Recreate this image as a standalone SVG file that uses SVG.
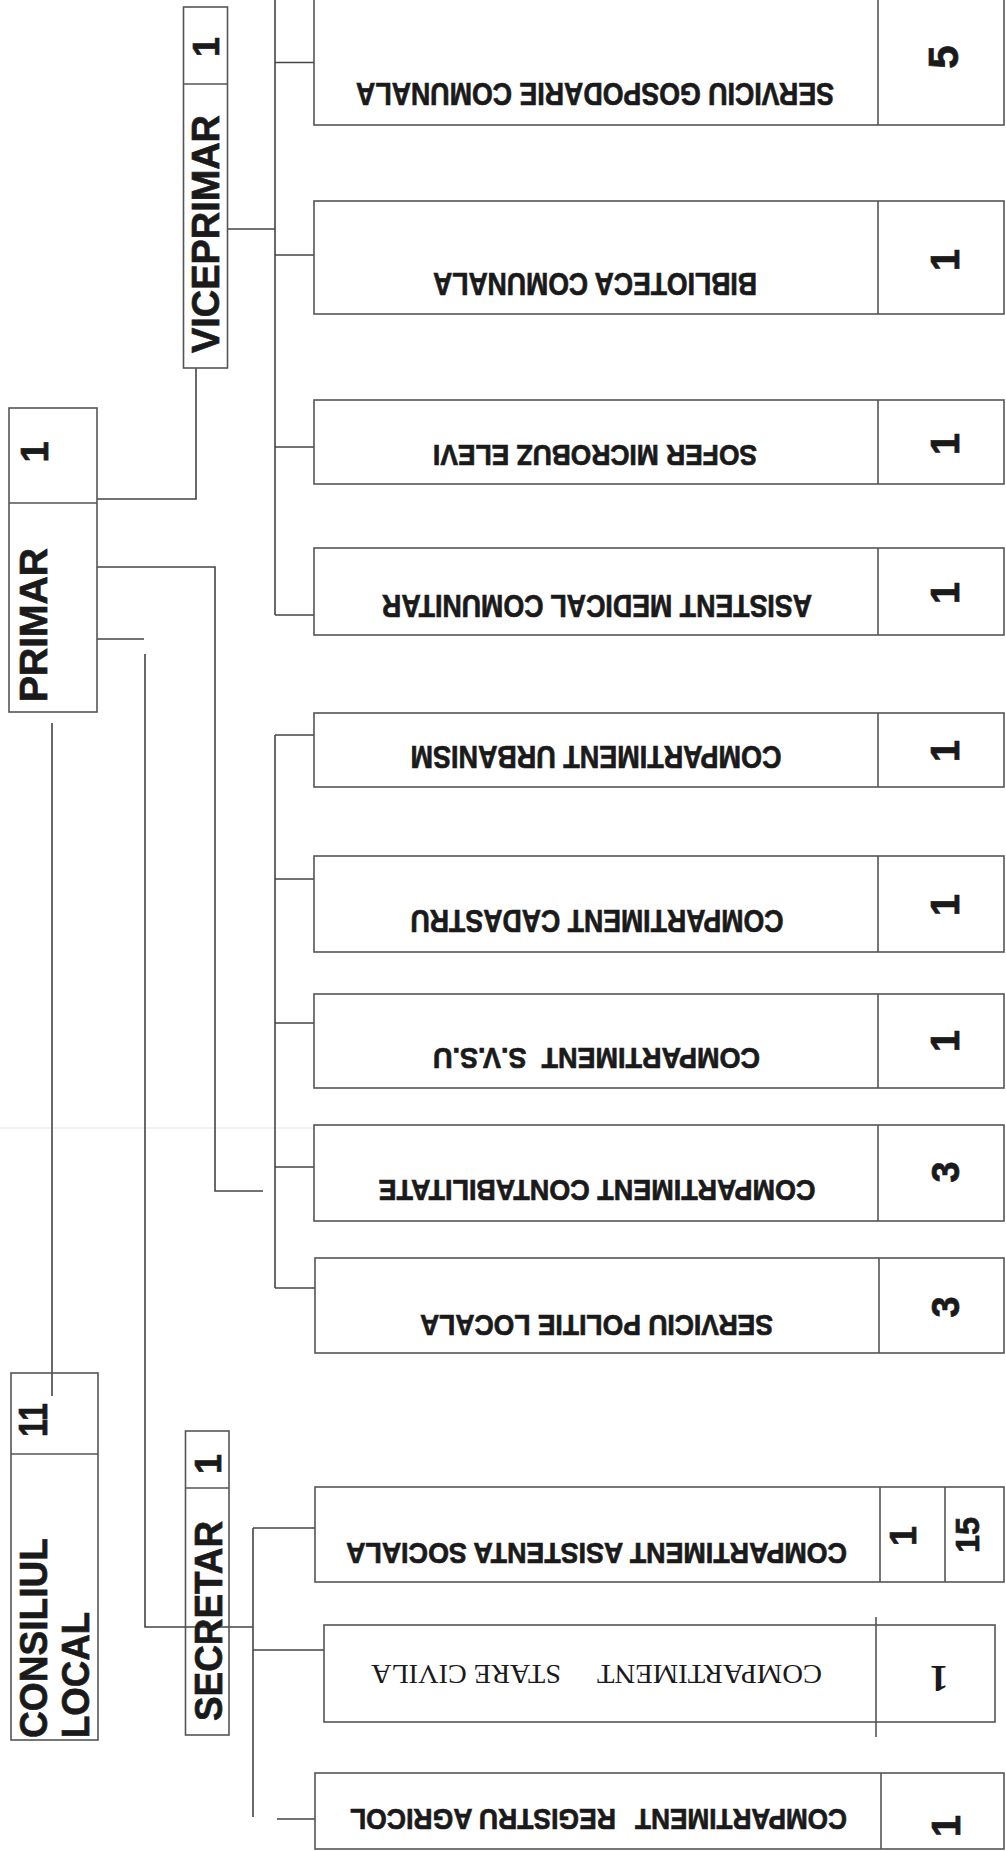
<svg xmlns="http://www.w3.org/2000/svg" width="1006" height="1851" viewBox="0 0 1006 1851">
<style>
.box{fill:#fff;stroke:#555;stroke-width:1.6}
.div{fill:none;stroke:#555;stroke-width:1.6}
.ln{fill:none;stroke:#444;stroke-width:1.6}
.t{font-family:"Liberation Sans",Arial,sans-serif;font-weight:bold;fill:#1a1a1a;stroke:#1a1a1a;stroke-width:0.7;text-anchor:middle}
.s{font-family:"Liberation Serif","Times New Roman",serif;fill:#1a1a1a;text-anchor:middle}
</style>
<rect width="1006" height="1851" fill="#fff"/>
<line x1="0" y1="1128" x2="314" y2="1128" stroke="#e4e4e4" stroke-width="1.2"/>

<g id="connectors">
<path class="ln" d="M52 723V1396"/>
<path class="ln" d="M97 499H196V368"/>
<path class="ln" d="M227 229H275"/>
<path class="ln" d="M275 -2V615"/>
<path class="ln" d="M275 62.5H321M275 255H321M275 447H321M275 615H321"/>
<path class="ln" d="M97 567H215V1191H263"/>
<path class="ln" d="M275 735V1288"/>
<path class="ln" d="M275 735H322M275 879H322M275 1023H322M275 1167H322M275 1288H322"/>
<path class="ln" d="M97 639H144"/>
<path class="ln" d="M145 654V1627H253"/>
<path class="ln" d="M253 1528V1817"/>
<path class="ln" d="M253 1528H324M253 1650H324M277 1819H321"/>
</g>

<g id="consiliul-local">
<rect class="box" x="11" y="1373" width="87" height="367" style="fill:none"/>
<line class="div" x1="11" y1="1454" x2="98" y2="1454"/>
<text class="t" font-size="40" transform="rotate(-90 33 1420)" x="33" y="1434" textLength="34" lengthAdjust="spacingAndGlyphs">11</text>
<text class="t" font-size="39" transform="rotate(-90 33 1638)" x="33" y="1652" textLength="200" lengthAdjust="spacingAndGlyphs">CONSILIUL</text>
<text class="t" font-size="39" transform="rotate(-90 75 1675)" x="75" y="1689" textLength="126" lengthAdjust="spacingAndGlyphs">LOCAL</text>
</g>

<g id="primar">
<rect class="box" x="9" y="408" width="88" height="304"/>
<line class="div" x1="9" y1="503" x2="97" y2="503"/>
<text class="t" font-size="38" transform="rotate(-90 35 452)" x="35" y="465">1</text>
<text class="t" font-size="39" transform="rotate(-90 33 625)" x="33" y="639" textLength="154" lengthAdjust="spacingAndGlyphs">PRIMAR</text>
</g>

<g id="viceprimar">
<rect class="box" x="183.5" y="7" width="44" height="361"/>
<line class="div" x1="183.5" y1="84" x2="227.5" y2="84"/>
<text class="t" font-size="36" transform="rotate(-90 206 47)" x="206" y="60">1</text>
<text class="t" font-size="38" transform="rotate(-90 205 234)" x="205" y="247.5" textLength="238" lengthAdjust="spacingAndGlyphs">VICEPRIMAR</text>
</g>

<g id="secretar">
<rect class="box" x="185.5" y="1431" width="43.5" height="304" style="fill:none"/>
<line class="div" x1="185.5" y1="1488" x2="229" y2="1488"/>
<text class="t" font-size="36" transform="rotate(-90 208 1464)" x="208" y="1477">1</text>
<text class="t" font-size="38" transform="rotate(-90 208 1621)" x="208" y="1634.5" textLength="200" lengthAdjust="spacingAndGlyphs">SECRETAR</text>
</g>

<g id="serviciu-gospodarie">
<rect class="box" x="314" y="-5" width="690" height="130"/>
<line class="div" x1="878" y1="-5" x2="878" y2="125"/>
<text class="t" font-size="31" transform="rotate(180 595 94)" x="595" y="105" textLength="478" lengthAdjust="spacingAndGlyphs">SERVICIU GOSPODARIE COMUNALA</text>
<text class="t" font-size="42" transform="rotate(-90 943 57)" x="943" y="72">5</text>
</g>

<g id="biblioteca">
<rect class="box" x="314" y="201" width="690" height="113"/>
<line class="div" x1="878" y1="201" x2="878" y2="314"/>
<text class="t" font-size="31" transform="rotate(180 595 284)" x="595" y="295" textLength="324" lengthAdjust="spacingAndGlyphs">BIBLIOTECA COMUNALA</text>
<text class="t" font-size="40" transform="rotate(-90 945 260)" x="945" y="274">1</text>
</g>

<g id="sofer">
<rect class="box" x="314" y="400" width="690" height="84"/>
<line class="div" x1="878" y1="400" x2="878" y2="484"/>
<text class="t" font-size="29" transform="rotate(180 595 455)" x="595" y="465.5" textLength="324" lengthAdjust="spacingAndGlyphs">SOFER MICROBUZ ELEVI</text>
<text class="t" font-size="40" transform="rotate(-90 945 444)" x="945" y="458">1</text>
</g>

<g id="asistent-medical">
<rect class="box" x="314" y="548" width="690" height="87"/>
<line class="div" x1="878" y1="548" x2="878" y2="635"/>
<text class="t" font-size="31" transform="rotate(180 597 606)" x="597" y="617" textLength="430" lengthAdjust="spacingAndGlyphs">ASISTENT MEDICAL COMUNITAR</text>
<text class="t" font-size="40" transform="rotate(-90 945 593)" x="945" y="607">1</text>
</g>

<g id="urbanism">
<rect class="box" x="314" y="713" width="690" height="74"/>
<line class="div" x1="878" y1="713" x2="878" y2="787"/>
<text class="t" font-size="31" transform="rotate(180 596 756.5)" x="596" y="767.5" textLength="371" lengthAdjust="spacingAndGlyphs">COMPARTIMENT URBANISM</text>
<text class="t" font-size="40" transform="rotate(-90 945 751)" x="945" y="765">1</text>
</g>

<g id="cadastru">
<rect class="box" x="314" y="856" width="690" height="96"/>
<line class="div" x1="878" y1="856" x2="878" y2="952"/>
<text class="t" font-size="31" transform="rotate(180 597 920.5)" x="597" y="931.5" textLength="373" lengthAdjust="spacingAndGlyphs">COMPARTIMENT CADASTRU</text>
<text class="t" font-size="40" transform="rotate(-90 945 905)" x="945" y="919">1</text>
</g>

<g id="svsu">
<rect class="box" x="314" y="994" width="690" height="94"/>
<line class="div" x1="878" y1="994" x2="878" y2="1088"/>
<text class="t" font-size="29" transform="rotate(180 596.5 1058)" x="596.5" y="1068" textLength="327" lengthAdjust="spacingAndGlyphs" xml:space="preserve">COMPARTIMENT  S.V.S.U</text>
<text class="t" font-size="40" transform="rotate(-90 945 1041)" x="945" y="1055">1</text>
</g>

<g id="contabilitate">
<rect class="box" x="314" y="1125" width="690" height="96"/>
<line class="div" x1="878" y1="1125" x2="878" y2="1221"/>
<text class="t" font-size="30" transform="rotate(180 597 1190.5)" x="597" y="1201" textLength="437" lengthAdjust="spacingAndGlyphs">COMPARTIMENT CONTABILITATE</text>
<text class="t" font-size="38" transform="rotate(-90 945 1172)" x="945" y="1185.5">3</text>
</g>

<g id="politie-locala">
<rect class="box" x="315" y="1258" width="689" height="95"/>
<line class="div" x1="879" y1="1258" x2="879" y2="1353"/>
<text class="t" font-size="30" transform="rotate(180 596.5 1325)" x="596.5" y="1335.5" textLength="353" lengthAdjust="spacingAndGlyphs">SERVICIU POLITIE LOCALA</text>
<text class="t" font-size="38" transform="rotate(-90 945 1307)" x="945" y="1320.5">3</text>
</g>

<g id="asistenta-sociala">
<rect class="box" x="315" y="1487" width="689" height="95"/>
<line class="div" x1="880" y1="1487" x2="880" y2="1582"/>
<line class="div" x1="945" y1="1487" x2="945" y2="1582"/>
<text class="t" font-size="30" transform="rotate(180 596.5 1553)" x="596.5" y="1563.5" textLength="501" lengthAdjust="spacingAndGlyphs">COMPARTIMENT ASISTENTA SOCIALA</text>
<text class="t" font-size="36" transform="rotate(-90 903 1536)" x="903" y="1549">1</text>
<text class="t" font-size="34" transform="rotate(-90 967 1535)" x="967" y="1547" textLength="36" lengthAdjust="spacingAndGlyphs">15</text>
</g>

<g id="stare-civila">
<rect class="box" x="324" y="1625" width="671" height="97"/>
<line class="div" x1="876" y1="1617" x2="876" y2="1737"/>
<text class="s" font-size="28" transform="rotate(180 709.5 1674.5)" x="709.5" y="1684" textLength="225" lengthAdjust="spacingAndGlyphs">COMPARTIMENT</text>
<text class="s" font-size="28" transform="rotate(180 466 1674.5)" x="466" y="1684" textLength="190" lengthAdjust="spacingAndGlyphs">STARE CIVILA</text>
<text class="s" font-size="38" font-weight="bold" transform="rotate(180 939 1679)" x="939" y="1692">1</text>
</g>

<g id="registru-agricol">
<rect class="box" x="315" y="1773" width="689" height="76"/>
<line class="div" x1="881" y1="1773" x2="881" y2="1849"/>
<text class="t" font-size="30" transform="rotate(180 741 1819.5)" x="741" y="1830" textLength="212" lengthAdjust="spacingAndGlyphs">COMPARTIMENT</text>
<text class="t" font-size="30" transform="rotate(180 483 1819.5)" x="483" y="1830" textLength="266" lengthAdjust="spacingAndGlyphs">REGISTRU AGRICOL</text>
<text class="t" font-size="40" transform="rotate(-90 946 1826)" x="946" y="1840">1</text>
</g>
</svg>
